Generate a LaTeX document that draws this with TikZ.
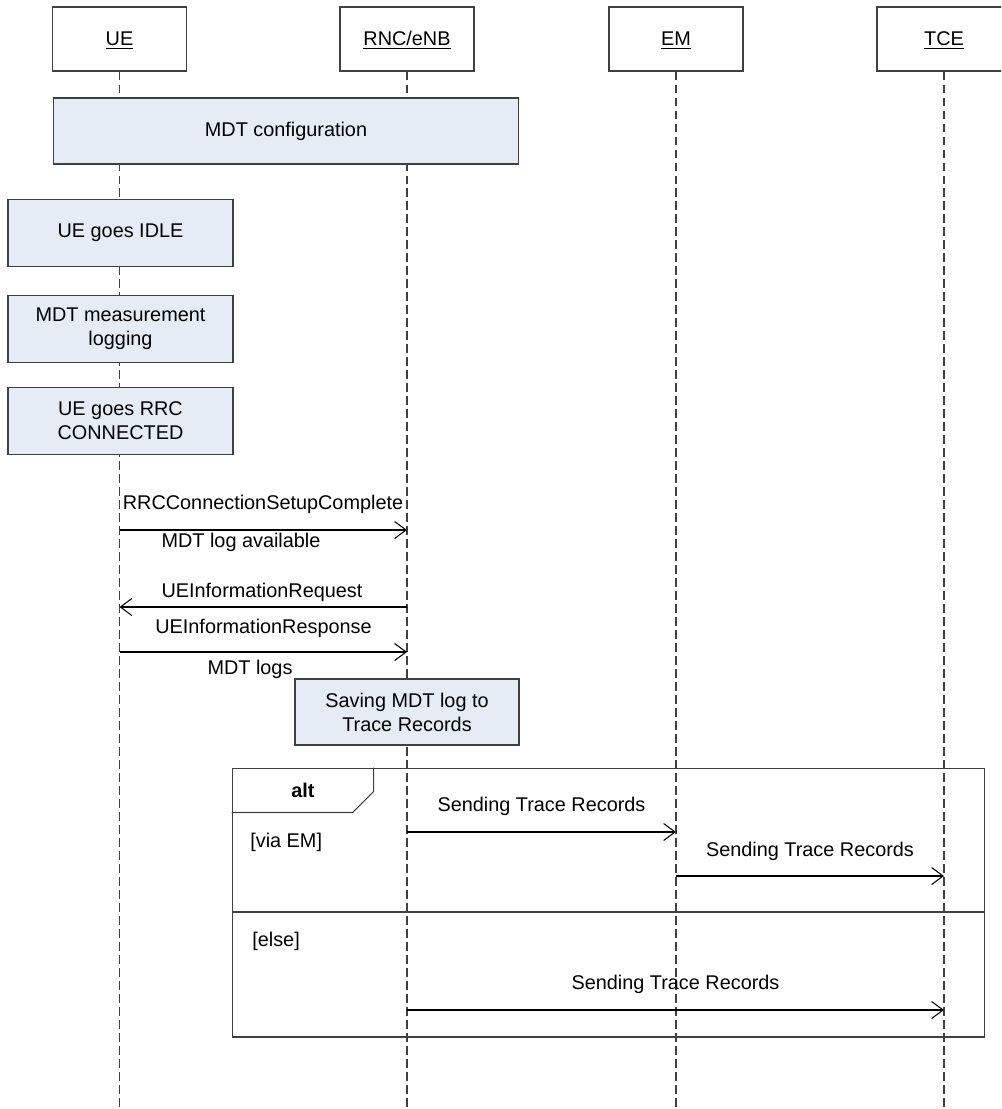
\documentclass[tikz,border=0pt]{standalone}
\usepackage{fontspec}
\setmainfont{Liberation Sans}
\usetikzlibrary{arrows.meta}
\definecolor{actfill}{RGB}{230,236,246}
\definecolor{linegray}{RGB}{64,64,64}
\newcommand{\lifename}[1]{\underline{\smash{#1}\vphantom{E}}}

\begin{document}
\begin{tikzpicture}[
  x=0.02cm, y=-0.02cm,
  font=\fontsize{11.3pt}{13.7pt}\selectfont,
  head/.style={draw=linegray,fill=white,line width=0.6pt,minimum width=2.68cm,minimum height=1.28cm,inner sep=0pt,text depth=0pt},
  act/.style={draw=linegray,fill=actfill,line width=0.6pt,minimum height=1.34cm,align=center,inner sep=0pt},
  life/.style={linegray,line width=0.6pt,dash pattern=on 0.17cm off 0.09cm},
  msg/.style={-{Straight Barb[length=0.23cm,width=0.34cm]},line width=0.6pt},
  lbl/.style={anchor=base,inner sep=0pt},
  guard/.style={anchor=base west,inner sep=0pt},
  frame/.style={draw=linegray,line width=0.6pt}
]
\useasboundingbox (0,0) rectangle (1001,1109);
\clip (0,0) rectangle (1001,1109);

\node[head] (ue) at (119.5,39) {\lifename{UE}};
\node[head] (rnc) at (407,39) {\lifename{RNC/eNB}};
\node[head] (em) at (676,39) {\lifename{EM}};
\node[head] (tce) at (944,39) {\lifename{TCE}};

\coordinate (bottom) at (0,1109);
\foreach \p in {ue,rnc,em,tce}
  \draw[life] (\p.south) -- (\p |- bottom);

\node[act,minimum width=9.32cm,minimum height=1.32cm] (cfg) at (286,131) {MDT configuration};
\node[act,minimum width=4.5cm] (idle) at (120.5,233) {UE goes IDLE};
\node[act,minimum width=4.5cm] (logging) at (120.5,329) {MDT measurement\\logging};
\node[act,minimum width=4.5cm] (conn) at (120.5,421) {UE goes RRC\\CONNECTED};

\coordinate (m1) at (0,530);
\coordinate (m2) at (0,607);
\coordinate (m3) at (0,652);
\draw[msg] (ue |- m1) -- (rnc |- m1);
\draw[msg] (rnc |- m2) -- (ue |- m2);
\draw[msg] (ue |- m3) -- (rnc |- m3);
\node[lbl] (m1top) at (263,509.5) {RRCConnectionSetupComplete};
\node[lbl] (m1bot) at (241,547) {MDT log available};
\node[lbl] (m2top) at (262,597) {UEInformationRequest};
\node[lbl] (m3top) at (263.5,633) {UEInformationResponse};
\node[lbl] (m3bot) at (250,674) {MDT logs};

\node[act,minimum width=4.48cm,minimum height=1.32cm] (save) at (407,712) {Saving MDT log to\\Trace Records};

\node[frame,minimum width=15.06cm,minimum height=5.38cm,inner sep=0pt] (altbox) at (608.5,902.5) {};
\draw[frame] (altbox.north west) ++(0,45) -- ++(121,0) -- ++(21,-21) -- ++(0,-24);
\coordinate (sep) at (0,912);
\draw[frame] (altbox.west |- sep) -- (altbox.east |- sep);
\node[lbl] (alttag) at (303,797) {\bfseries alt};
\node[guard] (viaem) at (250,847) {[via EM]};
\node[guard] (else) at (252,946) {[else]};

\coordinate (t1) at (0,832);
\coordinate (t2) at (0,876);
\coordinate (t3) at (0,1010);
\draw[msg] (rnc |- t1) -- (em |- t1);
\draw[msg] (em |- t2) -- (tce |- t2);
\draw[msg] (rnc |- t3) -- (tce |- t3);
\node[lbl] (t1lbl) at (541.5,811) {Sending Trace Records};
\node[lbl] (t2lbl) at (810,856) {Sending Trace Records};
\node[lbl] (t3lbl) at (675.5,989) {Sending Trace Records};
\end{tikzpicture}
\end{document}
